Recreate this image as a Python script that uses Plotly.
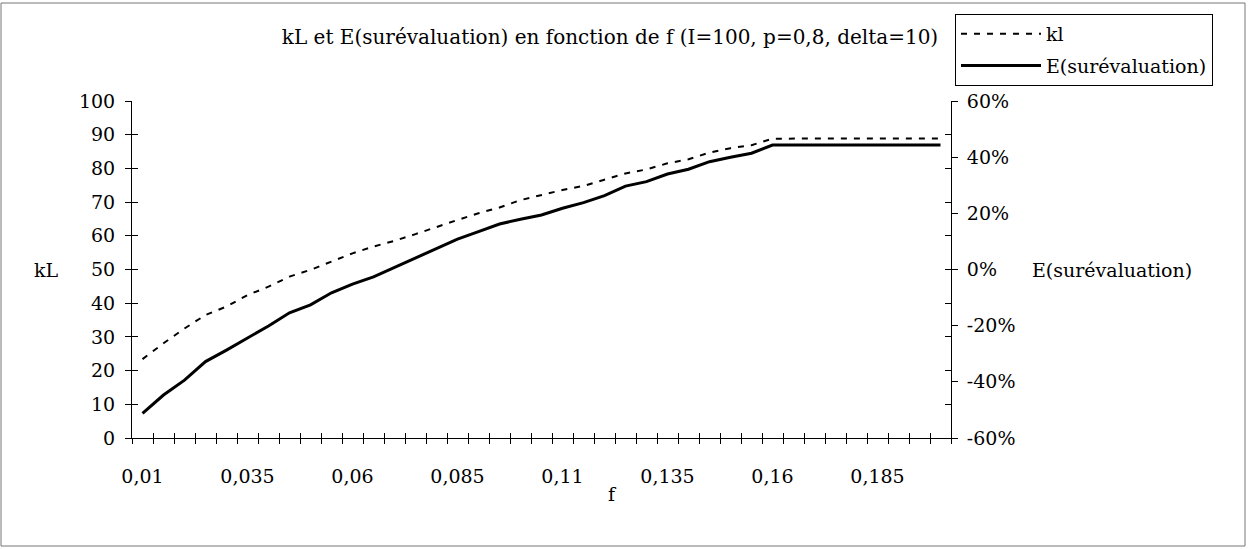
import plotly.graph_objects as go

f_values = [0.01, 0.015, 0.02, 0.025, 0.03, 0.035, 0.04, 0.045, 0.05, 0.055,
            0.06, 0.065, 0.07, 0.075, 0.08, 0.085, 0.09, 0.095, 0.1, 0.105,
            0.11, 0.115, 0.12, 0.125, 0.13, 0.135, 0.14, 0.145, 0.15, 0.155,
            0.16, 0.165, 0.17, 0.175, 0.18, 0.185, 0.19, 0.195, 0.2]

kl_values = [23.4, 28.1, 32.5, 36.5, 39.0, 42.4, 44.9, 47.9, 49.9, 52.3,
             54.8, 56.8, 58.5, 60.5, 62.7, 64.7, 66.7, 68.4, 70.6, 72.1,
             73.6, 74.8, 76.6, 78.5, 79.7, 81.5, 82.7, 84.7, 86.0, 86.9,
             88.8, 88.9, 88.9, 88.9, 88.9, 88.9, 88.9, 88.9, 88.9]

e_values = [-0.512, -0.447, -0.394, -0.328, -0.287, -0.245, -0.201, -0.154, -0.126, -0.083,
            -0.052, -0.026, 0.008, 0.040, 0.076, 0.108, 0.135, 0.162, 0.179, 0.194,
            0.218, 0.238, 0.263, 0.297, 0.313, 0.340, 0.357, 0.384, 0.400, 0.414,
            0.443, 0.443, 0.443, 0.443, 0.443, 0.443, 0.443, 0.443, 0.443]

x_tick_vals = [0.01, 0.035, 0.06, 0.085, 0.11, 0.135, 0.16, 0.185]
x_tick_text = ["0,01", "0,035", "0,06", "0,085", "0,11", "0,135", "0,16", "0,185"]

y2_tick_vals = [-0.6, -0.4, -0.2, 0.0, 0.2, 0.4, 0.6]
y2_tick_text = ["-60%", "-40%", "-20%", "0%", "20%", "40%", "60%"]

title_text = "kL et E(surévaluation) en fonction de f (I=100, p=0,8, delta=10)"

FONT = "DejaVu Serif"
FS = 19
W, H = 1254, 549
L, R, T, B = 132, 303, 101, 111
PW, PH = W - L - R, H - T - B
XR = [0.0075, 0.2025]


def px_x(x):
    return (x - L) / PW


def px_y(y):
    return (H - B - y) / PH


fig = go.Figure()
fig.add_trace(go.Scatter(x=f_values, y=kl_values, name="kl", mode="lines",
                         legendgroup="a",
                         line=dict(color="black", width=2, dash="6px,7px"),
                         xaxis="x", yaxis="y"))
fig.add_trace(go.Scatter(x=f_values, y=e_values, name="E(surévaluation)", mode="lines",
                         legendgroup="b",
                         line=dict(color="black", width=3),
                         xaxis="x", yaxis="y2"))
# empty helper traces so the overlay tick axes (inner half of crossing ticks) are drawn
fig.add_trace(go.Scatter(x=[], y=[], xaxis="x2", yaxis="y3", showlegend=False, hoverinfo="skip"))
fig.add_trace(go.Scatter(x=[], y=[], xaxis="x2", yaxis="y4", showlegend=False, hoverinfo="skip"))

fig.update_layout(
    width=W, height=H,
    margin=dict(l=L, r=R, t=T, b=B),
    paper_bgcolor="white", plot_bgcolor="white",
    font=dict(family=FONT, size=FS, color="black"),
    showlegend=True,
    title=dict(text=title_text, x=px_x(610), xref="paper", xanchor="center",
               y=1 - 37 / H, yref="container", yanchor="middle",
               font=dict(family=FONT, size=20, color="black")),
    legend=dict(x=px_x(955), y=px_y(14),
                xanchor="left", yanchor="top",
                bordercolor="black", borderwidth=1, bgcolor="white",
                font=dict(family=FONT, size=FS, color="black"),
                itemwidth=80, tracegroupgap=4),
    xaxis=dict(range=XR, showgrid=False, zeroline=False,
               showline=True, linecolor="black", linewidth=1,
               tickmode="array", tickvals=x_tick_vals, ticktext=x_tick_text,
               ticks="", ticklabelstandoff=21,
               minor=dict(tickmode="linear", tick0=0.0075, dtick=0.005,
                          ticks="outside", ticklen=5, tickcolor="black", tickwidth=1, showgrid=False)),
    xaxis2=dict(range=XR, overlaying="x", anchor="y", showgrid=False, zeroline=False,
                showline=False, showticklabels=False,
                tickmode="linear", tick0=0.0075, dtick=0.005,
                ticks="inside", ticklen=5, tickcolor="black", side="bottom"),
    yaxis=dict(range=[0, 100], dtick=10, tick0=0, showgrid=False, zeroline=False,
               showline=True, linecolor="black", linewidth=1,
               ticks="outside", ticklen=6, tickcolor="black", ticklabelstandoff=6),
    yaxis2=dict(range=[-0.6, 0.6], tickmode="array", tickvals=y2_tick_vals, ticktext=y2_tick_text,
                overlaying="y", side="right", anchor="x",
                showgrid=False, zeroline=False,
                showline=True, linecolor="black", linewidth=1,
                ticks="outside", ticklen=6, tickcolor="black", ticklabelstandoff=5),
    yaxis3=dict(range=[0, 100], dtick=10, tick0=0, overlaying="y", side="left", anchor="x2",
                showgrid=False, zeroline=False, showline=False, showticklabels=False,
                ticks="inside", ticklen=6, tickcolor="black"),
    yaxis4=dict(range=[0, 100], dtick=10, tick0=0, overlaying="y", side="right", anchor="x2",
                showgrid=False, zeroline=False, showline=False, showticklabels=False,
                ticks="inside", ticklen=6, tickcolor="black"),
)

# axis titles (horizontal, as in the original)
fig.add_annotation(text="kL", xref="paper", yref="paper",
                   x=px_x(46), y=px_y(270),
                   showarrow=False, xanchor="center", yanchor="middle",
                   font=dict(family=FONT, size=FS, color="black"))
fig.add_annotation(text="E(surévaluation)", xref="paper", yref="paper",
                   x=px_x(1030), y=px_y(270),
                   showarrow=False, xanchor="left", yanchor="middle",
                   font=dict(family=FONT, size=FS, color="black"))
fig.add_annotation(text="f", xref="paper", yref="paper",
                   x=px_x(612), y=px_y(494),
                   showarrow=False, xanchor="center", yanchor="middle",
                   font=dict(family=FONT, size=FS, color="black"))

# outer frame of the chart
fig.add_shape(type="rect", xref="paper", yref="paper", layer="below",
              x0=px_x(1), x1=px_x(1245), y0=px_y(546), y1=px_y(3),
              line=dict(color="#777777", width=1), fillcolor="rgba(0,0,0,0)")

fig.write_html("out.html", config={"displayModeBar": False},
               post_script="document.body.style.margin='0';")
